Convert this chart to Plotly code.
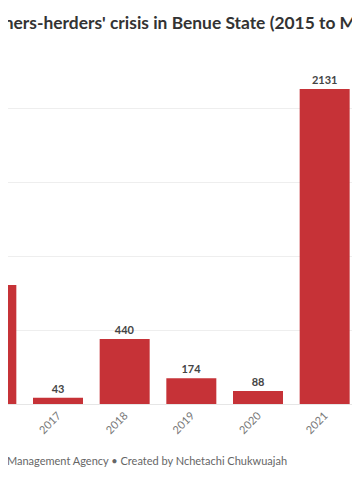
import plotly.graph_objects as go

years = ["2016", "2017", "2018", "2019", "2020", "2021"]
deaths = [805, 43, 440, 174, 88, 2131]

title_text = "Deaths from farmers-herders' crisis in Benue State (2015 to March 2022)"
caption_text = "Source: Benue State Emergency Management Agency • Created by Nchetachi Chukwuajah"

FONT = "Lato"
W, H = 360, 504

fig = go.Figure(go.Bar(
    x=years, y=deaths,
    marker=dict(color="#c63237", line=dict(width=0)),
    text=["<b>%d</b>" % v for v in deaths],
    textposition="outside",
    textfont=dict(family=FONT, size=11, color="#444"),
    cliponaxis=True,
))

fig.update_layout(
    width=W, height=H,
    margin=dict(l=0, r=0, t=52, b=108),
    paper_bgcolor="white", plot_bgcolor="white",
    bargap=0.25,
    showlegend=False,
    font=dict(family=FONT),
    xaxis=dict(type="category", range=[0.25, 5.65], tickangle=-45,
               tickfont=dict(family=FONT, size=11, color="#777"),
               showgrid=False, showline=True, linecolor="#e6e6e6", linewidth=1,
               ticks=""),
    yaxis=dict(range=[0, 2327], dtick=500, showgrid=True, gridcolor="#eeeeee",
               showticklabels=False, zeroline=False),
    annotations=[
        dict(text="<b>" + title_text + "</b>", xref="paper", yref="paper",
             x=-133 / W, y=1, yshift=38, xanchor="left", yanchor="middle",
             showarrow=False, font=dict(family=FONT, size=17.4, color="#333")),
        dict(text=caption_text, xref="paper", yref="paper",
             x=281 / W, y=0, yshift=-56, xanchor="right", yanchor="middle",
             showarrow=False, font=dict(family=FONT, size=11, color="#666")),
    ],
)

fig.write_html("out.html")
